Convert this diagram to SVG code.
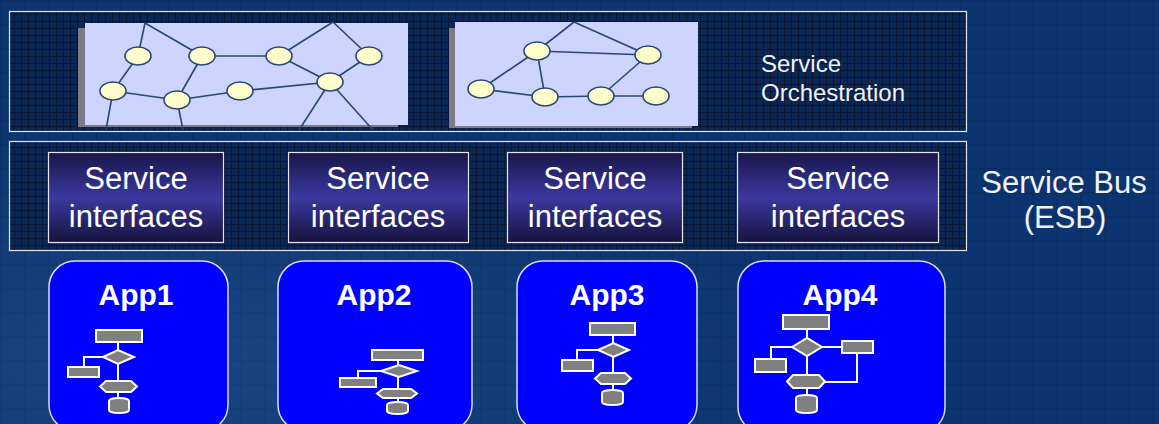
<svg xmlns="http://www.w3.org/2000/svg" width="1159" height="424" viewBox="0 0 1159 424">
<defs>
<style>
.panel{fill:url(#grid);stroke:#dfe6f2;stroke-width:1.2}
.net{fill:#ccd4ff}
.shadow{fill:#7a7a88}
.edge{stroke:#2b4675;stroke-width:1.6;fill:none}
.nd{fill:#ffffcc;stroke:#2b4675;stroke-width:1.6}
.si{fill:url(#siGrad);stroke:#e6e6f0;stroke-width:1.2}
.siT{font-family:"Liberation Sans",Arial,sans-serif;font-size:31px;fill:#ffffff;text-anchor:middle}
.lbl{font-family:"Liberation Sans",Arial,sans-serif;fill:#f0f2f8}
.app{fill:#0000ff;stroke:#d8dcef;stroke-width:1.5}
.appT{font-family:"Liberation Sans",Arial,sans-serif;font-size:30px;font-weight:bold;fill:#ffffff;text-anchor:middle}
.fc{fill:#808080;stroke:#ffffff;stroke-width:2}
.fl{stroke:#ffffff;stroke-width:2;fill:none}
</style>
<pattern id="grid" width="7" height="7" patternUnits="userSpaceOnUse">
<rect width="7" height="7" fill="#0c2753"/>
<path d="M0 0.5H7M0.5 0V7" stroke="#061633" stroke-width="1"/>
</pattern>
<pattern id="bgGrid" width="24" height="24" patternUnits="userSpaceOnUse">
<path d="M0 1H24M1 0V24" stroke="#082a5e" stroke-width="2" opacity="0.6"/>
</pattern>
<linearGradient id="siGrad" x1="0" y1="0" x2="0" y2="1">
<stop offset="0" stop-color="#18164a"/>
<stop offset="0.5" stop-color="#3a389e"/>
<stop offset="1" stop-color="#15143d"/>
</linearGradient>
<radialGradient id="glow" cx="0.15" cy="0.85" r="0.6">
<stop offset="0" stop-color="#2a5a94" stop-opacity="0.45"/>
<stop offset="1" stop-color="#2a5a94" stop-opacity="0"/>
</radialGradient>
</defs>

<rect width="1159" height="424" fill="#0b3470"/>
<rect width="1159" height="424" fill="url(#bgGrid)"/>
<rect width="1159" height="424" fill="url(#glow)"/>

<!-- Orchestration layer -->
<g id="orchestration">
<rect class="panel" x="9.5" y="11.5" width="957" height="120"/>
<text class="lbl" x="761" y="72" font-size="24">Service</text>
<text class="lbl" x="761" y="101" font-size="24">Orchestration</text>
</g>

<g id="network1">
<rect class="shadow" x="78" y="28" width="320" height="99"/>
<rect class="net" x="85" y="23" width="323" height="102"/>
<g class="edge">
<line x1="145" y1="23" x2="138" y2="56"/>
<line x1="145" y1="23" x2="202" y2="56"/>
<line x1="138" y1="56" x2="113" y2="91"/>
<line x1="113" y1="91" x2="177" y2="100"/>
<line x1="113" y1="91" x2="106" y2="130"/>
<line x1="202" y1="56" x2="177" y2="100"/>
<line x1="177" y1="100" x2="183" y2="130"/>
<line x1="177" y1="100" x2="240" y2="91"/>
<line x1="240" y1="91" x2="330" y2="82"/>
<line x1="202" y1="56" x2="279" y2="56"/>
<line x1="279" y1="56" x2="330" y2="82"/>
<line x1="333" y1="22" x2="279" y2="56"/>
<line x1="333" y1="22" x2="369" y2="56"/>
<line x1="369" y1="56" x2="330" y2="82"/>
<line x1="330" y1="82" x2="299" y2="130"/>
<line x1="330" y1="82" x2="373" y2="130"/>
</g>
<ellipse class="nd" cx="138" cy="56" rx="13" ry="9"/>
<ellipse class="nd" cx="202" cy="56" rx="13" ry="9"/>
<ellipse class="nd" cx="279" cy="56" rx="13" ry="9"/>
<ellipse class="nd" cx="369" cy="56" rx="13" ry="9"/>
<ellipse class="nd" cx="113" cy="91" rx="13" ry="9"/>
<ellipse class="nd" cx="177" cy="100" rx="13" ry="9"/>
<ellipse class="nd" cx="240" cy="91" rx="13" ry="9"/>
<ellipse class="nd" cx="330" cy="82" rx="13" ry="9"/>
</g>

<g id="network2">
<rect class="shadow" x="449" y="28" width="243" height="100"/>
<rect class="net" x="455" y="22" width="243" height="104"/>
<g class="edge">
<line x1="574" y1="22" x2="537" y2="51"/>
<line x1="574" y1="22" x2="648" y2="55"/>
<line x1="537" y1="51" x2="648" y2="55"/>
<line x1="537" y1="51" x2="481" y2="89"/>
<line x1="537" y1="51" x2="545" y2="97"/>
<line x1="481" y1="89" x2="545" y2="97"/>
<line x1="545" y1="97" x2="601" y2="96"/>
<line x1="601" y1="96" x2="648" y2="55"/>
<line x1="601" y1="96" x2="656" y2="96"/>
</g>
<ellipse class="nd" cx="537" cy="51" rx="13" ry="9"/>
<ellipse class="nd" cx="648" cy="55" rx="13" ry="9"/>
<ellipse class="nd" cx="481" cy="89" rx="13" ry="9"/>
<ellipse class="nd" cx="545" cy="97" rx="13" ry="9"/>
<ellipse class="nd" cx="601" cy="96" rx="13" ry="9"/>
<ellipse class="nd" cx="656" cy="96" rx="13" ry="9"/>
</g>

<!-- Service bus layer -->
<g id="service-bus">
<rect class="panel" x="9.5" y="141.5" width="957" height="109"/>
<text class="lbl" x="1064" y="193" font-size="31" text-anchor="middle">Service Bus</text>
<text class="lbl" x="1065" y="228" font-size="31" text-anchor="middle">(ESB)</text>
</g>
<g id="si1"><rect class="si" x="48.5" y="152.5" width="175" height="90"/><text class="siT" x="136" y="189">Service</text><text class="siT" x="136" y="227">interfaces</text></g>
<g id="si2"><rect class="si" x="288.5" y="152.5" width="180" height="90"/><text class="siT" x="378" y="189">Service</text><text class="siT" x="378" y="227">interfaces</text></g>
<g id="si3"><rect class="si" x="507.5" y="152.5" width="175" height="90"/><text class="siT" x="595" y="189">Service</text><text class="siT" x="595" y="227">interfaces</text></g>
<g id="si4"><rect class="si" x="737.5" y="152.5" width="201" height="90"/><text class="siT" x="838" y="189">Service</text><text class="siT" x="838" y="227">interfaces</text></g>

<!-- Applications -->
<g id="app1">
<rect class="app" x="49" y="261" width="179" height="170" rx="26"/>
<text class="appT" x="136" y="305">App1</text>
<g>
<path class="fl" d="M118 342V381M118 392V398M103 357H84V367"/>
<rect class="fc" x="96" y="330" width="46" height="12"/>
<polygon class="fc" points="103,357 118,350 134,357 118,364"/>
<rect class="fc" x="68" y="367" width="31" height="10"/>
<polygon class="fc" points="100,386.5 106,381 131,381 137,386.5 131,392 106,392"/>
<path class="fc" d="M109 401a10 3 0 0 1 20 0V410a10 3 0 0 1 -20 0Z"/>
</g>
</g>

<g id="app2">
<rect class="app" x="278" y="261" width="194" height="170" rx="26"/>
<text class="appT" x="374" y="305">App2</text>
<g>
<path class="fl" d="M398 360V389M398 398V403M381 371H358V378"/>
<rect class="fc" x="372" y="350" width="51" height="10"/>
<polygon class="fc" points="381,371 399,365 417,371 399,377"/>
<rect class="fc" x="340" y="378" width="36" height="9"/>
<polygon class="fc" points="377,393.5 383,389 411,389 417,393.5 411,398 383,398"/>
<path class="fc" d="M387 405a10.5 3 0 0 1 21 0V411a10.5 3 0 0 1 -21 0Z"/>
</g>
</g>

<g id="app3">
<rect class="app" x="517" y="261" width="180" height="170" rx="26"/>
<text class="appT" x="607" y="305">App3</text>
<g>
<path class="fl" d="M613 335V373M613 384V390M598 350H577V360"/>
<rect class="fc" x="590" y="323" width="45" height="12"/>
<polygon class="fc" points="598,350 613.5,343 629,350 613.5,357"/>
<rect class="fc" x="562" y="360" width="31" height="11"/>
<polygon class="fc" points="595,378.5 601,373 625,373 631,378.5 625,384 601,384"/>
<path class="fc" d="M602 393a10.5 3 0 0 1 21 0V402a10.5 3 0 0 1 -21 0Z"/>
</g>
</g>

<g id="app4">
<rect class="app" x="738" y="261" width="207" height="172" rx="26"/>
<text class="appT" x="840" y="305">App4</text>
<g>
<path class="fl" d="M807 329V375M807 388V395M792 347H771V359M822 347H842M857 353V382H825"/>
<rect class="fc" x="783" y="315" width="46" height="14"/>
<polygon class="fc" points="792,347 807,338 822,347 807,356"/>
<rect class="fc" x="755" y="359" width="31" height="13"/>
<rect class="fc" x="842" y="341" width="31" height="12"/>
<polygon class="fc" points="787,381.5 793,375 819,375 825,381.5 819,388 793,388"/>
<path class="fc" d="M796 398a10.5 3 0 0 1 21 0V410a10.5 3 0 0 1 -21 0Z"/>
</g>
</g>

<g id="connectors"></g>
</svg>
